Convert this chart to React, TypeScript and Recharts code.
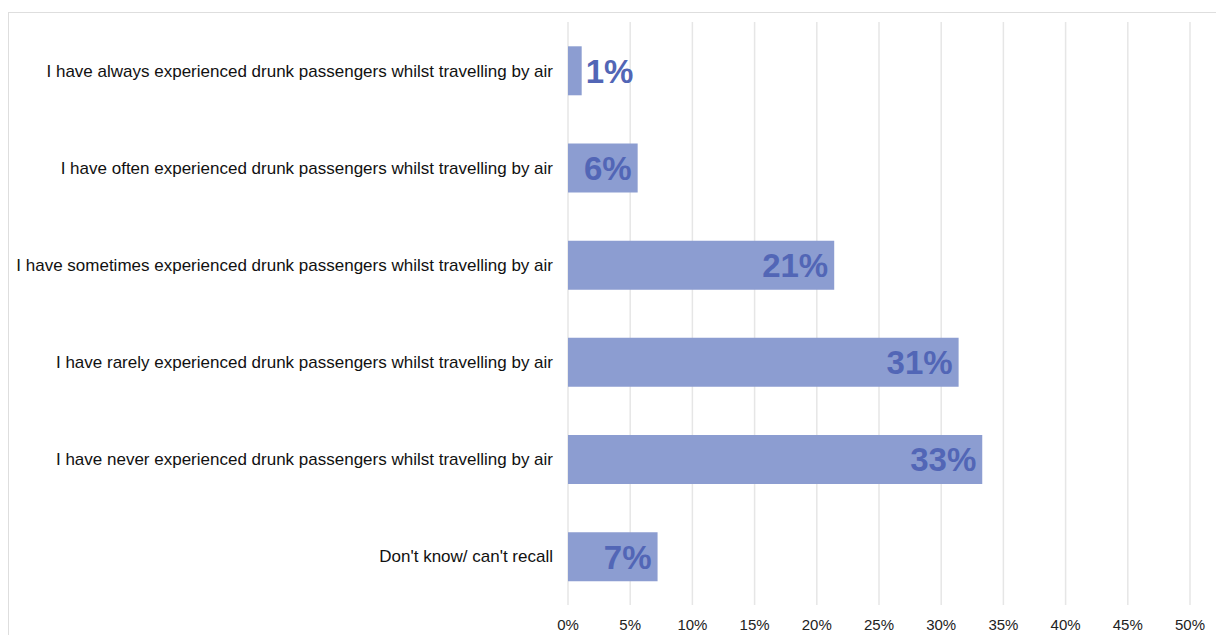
import React from "react";
import { BarChart, Bar, XAxis, YAxis, CartesianGrid, LabelList } from "recharts";

const categories = [
  "I have always experienced drunk passengers whilst travelling by air",
  "I have often experienced drunk passengers whilst travelling by air",
  "I have sometimes experienced drunk passengers whilst travelling by air",
  "I have rarely experienced drunk passengers whilst travelling by air",
  "I have never experienced drunk passengers whilst travelling by air",
  "Don't know/ can't recall",
];

const shares = [1.1, 5.6, 21.4, 31.4, 33.3, 7.2];

const xTicks = [0, 5, 10, 15, 20, 25, 30, 35, 40, 45, 50];

const data = categories.map((name, i) => ({ name, value: shares[i] }));

const FONT = "'Liberation Sans', Arial, Helvetica, sans-serif";
const LABEL_SIZE = 33;

// value label: inside the bar end when it fits, otherwise just outside
const renderValueLabel = (props: any) => {
  const { x, y, width, height, value } = props;
  const text = `${Math.round(value)}%`;
  const textWidth = (text.length - 1) * 0.556 * LABEL_SIZE + 0.889 * LABEL_SIZE;
  const fits = width > textWidth + 10;
  return (
    <text
      x={fits ? x + width - 6 : x + width + 4}
      y={y + height / 2}
      dy="0.36em"
      textAnchor={fits ? "end" : "start"}
      fill="#5266b6"
      fontSize={LABEL_SIZE}
      fontWeight="bold"
      fontFamily={FONT}
    >
      {text}
    </text>
  );
};

export default function App() {
  return (
    <div
      style={{
        position: "absolute",
        left: 0,
        top: 0,
        width: 1218,
        height: 635,
        background: "#fff",
        overflow: "hidden",
      }}
    >
      <div
        style={{
          position: "absolute",
          left: 8,
          top: 12,
          width: 1207,
          height: 640,
          borderTop: "1.5px solid #dedede",
          borderLeft: "1.5px solid #dedede",
        }}
      />
      <div style={{ position: "absolute", left: 0, top: 0 }}>
        <BarChart
          width={1218}
          height={635}
          data={data}
          layout="vertical"
          barCategoryGap="25%"
          margin={{ top: 22, right: 28, left: 0, bottom: 0 }}
        >
          <CartesianGrid horizontal={false} stroke="#e6e6e6" strokeWidth={1.5} />
          <XAxis
            type="number"
            domain={[0, 50]}
            ticks={xTicks}
            tickFormatter={(v) => `${v}%`}
            axisLine={false}
            tickLine={false}
            tickMargin={8}
            height={30}
            tick={{ fontSize: 15, fill: "#222", fontFamily: FONT }}
          />
          <YAxis
            type="category"
            dataKey="name"
            width={568}
            axisLine={false}
            tickLine={false}
            tickMargin={9}
            interval={0}
            tick={{ fontSize: 17, fill: "#111", fontFamily: FONT }}
          />
          <Bar dataKey="value" fill="#8c9dd1" isAnimationActive={false}>
            <LabelList dataKey="value" content={renderValueLabel} />
          </Bar>
        </BarChart>
      </div>
    </div>
  );
}
